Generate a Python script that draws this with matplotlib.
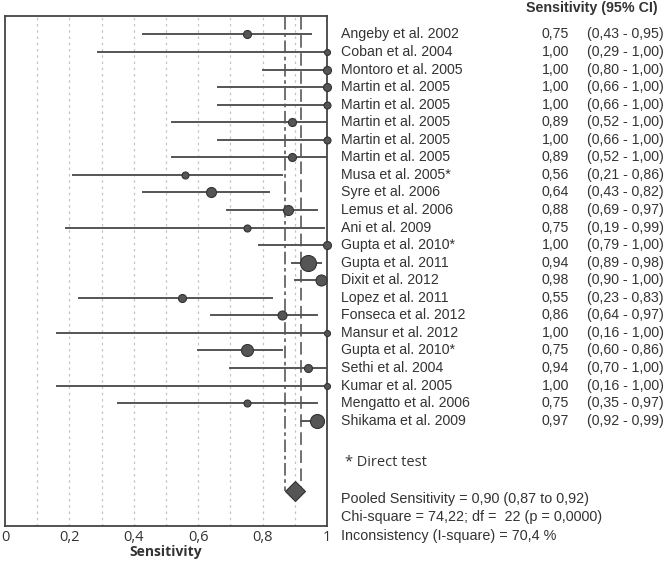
import numpy as np
import matplotlib.pyplot as plt
import matplotlib.transforms as mtransforms

# study data
studies = ["Angeby et al. 2002", "Coban et al. 2004", "Montoro et al. 2005",
           "Martin et al. 2005", "Martin et al. 2005", "Martin et al. 2005",
           "Martin et al. 2005", "Martin et al. 2005", "Musa et al. 2005*",
           "Syre et al. 2006", "Lemus et al. 2006", "Ani et al. 2009",
           "Gupta et al. 2010*", "Gupta et al. 2011", "Dixit et al. 2012",
           "Lopez et al. 2011", "Fonseca et al. 2012", "Mansur et al. 2012",
           "Gupta et al. 2010*", "Sethi et al. 2004", "Kumar et al. 2005",
           "Mengatto et al. 2006", "Shikama et al. 2009"]
sens = [0.75, 1.00, 1.00, 1.00, 1.00, 0.89, 1.00, 0.89, 0.56, 0.64, 0.88, 0.75,
        1.00, 0.94, 0.98, 0.55, 0.86, 1.00, 0.75, 0.94, 1.00, 0.75, 0.97]
ci_lo = [0.43, 0.29, 0.80, 0.66, 0.66, 0.52, 0.66, 0.52, 0.21, 0.43, 0.69, 0.19,
         0.79, 0.89, 0.90, 0.23, 0.64, 0.16, 0.60, 0.70, 0.16, 0.35, 0.92]
ci_hi = [0.95, 1.00, 1.00, 1.00, 1.00, 1.00, 1.00, 1.00, 0.86, 0.82, 0.97, 0.99,
         1.00, 0.98, 1.00, 0.83, 0.97, 1.00, 0.86, 1.00, 1.00, 0.97, 0.99]
# relative study weight -> marker radius (px)
weight_r = [4, 3, 4, 4, 3.5, 4, 3.5, 4, 3.5, 5, 5, 3.5,
            4, 8, 5.5, 4, 4.5, 3, 6, 4, 3, 3.5, 7]

pooled = 0.90
pooled_lo = 0.87
pooled_hi = 0.92
pooled_text = ["Pooled Sensitivity = 0,90 (0,87 to 0,92)",
               "Chi-square = 74,22; df =  22 (p = 0,0000)",
               "Inconsistency (I-square) = 70,4 %"]

W, H = 666, 563
fig = plt.figure(figsize=(W / 100, H / 100), dpi=100)
ax = fig.add_axes([5 / W, 1 - 526 / H, 322 / W, 510 / H])

gray = "#555555"
n = len(studies)

# grid
for gx in np.arange(0.1, 1.0, 0.1):
    ax.axvline(gx, color="#c4c4c4", lw=0.9, ls=(0, (2, 3)), zorder=0)

# pooled CI lines
diamond_row = n + 3
ax.plot([pooled_lo, pooled_lo], [-1, diamond_row], color="#666666", lw=1.3,
        dashes=(7, 2, 2, 2), zorder=1)
ax.plot([pooled_hi, pooled_hi], [-1, diamond_row], color="#666666", lw=1.3,
        dashes=(7, 3), zorder=1)

for i in range(n):
    ax.plot([ci_lo[i], ci_hi[i]], [i, i], color=gray, lw=1.4, zorder=2)
    ax.plot(sens[i], i, "o", ms=weight_r[i] * 2 * 0.72, mfc=gray, mec="#333333",
            mew=0.8, zorder=3, clip_on=False)

ax.plot(pooled, diamond_row, "D", ms=10, mfc=gray, mec="#333333", mew=0.8, zorder=3)

ax.set_xlim(0, 1)
ax.set_ylim(n + 5, -1.05)
ax.set_yticks([])
ax.set_xticks([0, 0.2, 0.4, 0.6, 0.8, 1.0])
ax.set_xticklabels(["0", "0,2", "0,4", "0,6", "0,8", "1"], fontsize=10.5,
                   color="#333333", family="Open Sans")
ax.tick_params(axis="x", length=0, pad=3)
ax.set_xlabel("Sensitivity", fontsize=10, fontweight="bold", color="#333333",
              family="Open Sans", labelpad=0)
for s in ax.spines.values():
    s.set_color("#444444")
    s.set_linewidth(1.3)

# right-hand table
tr = mtransforms.blended_transform_factory(fig.transFigure, ax.transData)
txt = dict(fontsize=10.2, color="#333333", family="Liberation Sans", va="center")
for i in range(n):
    fig.text(341 / W, i, studies[i], transform=tr, **txt)
    fig.text(569 / W, i, ("%.2f" % sens[i]).replace(".", ","), transform=tr,
             ha="right", **txt)
    ci = "(%.2f - %.2f)" % (ci_lo[i], ci_hi[i])
    fig.text(587 / W, i, ci.replace(".", ","), transform=tr, **txt)

fig.text(526 / W, 1 - 8 / H, "Sensitivity (95% CI)", fontsize=10.3,
         fontweight="bold", color="#333333", family="Liberation Sans", va="center")
fig.text(345 / W, 1 - 463 / H, "* Direct test", fontsize=10.5, color="#333333",
         family="Open Sans", va="center")
for k, line in enumerate(pooled_text):
    fig.text(341 / W, 1 - (499 + k * 18.5) / H, line, fontsize=10.4,
             color="#333333", family="Liberation Sans", va="center")

fig.savefig("out.png", dpi=100)
